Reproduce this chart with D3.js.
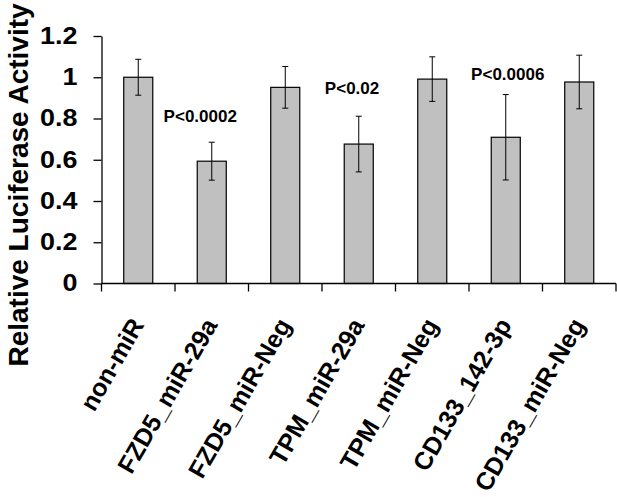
<!DOCTYPE html>
<html>
<head>
<meta charset="utf-8">
<script src="https://cdn.jsdelivr.net/npm/d3@7"></script>
<style>
  body { margin: 0; background: #fff; }
  text { font-family: Arial, "Liberation Sans", sans-serif; font-weight: bold; fill: #000; }
</style>
</head>
<body>
<div id="chart"></div>
<script>
// dados
const categorias = ["non-miR", "FZD5_miR-29a", "FZD5_miR-Neg", "TPM_miR-29a", "TPM_miR-Neg", "CD133_142-3p", "CD133_miR-Neg"];
const valores = [1.0, 0.593, 0.951, 0.676, 0.991, 0.709, 0.977];
const erros = [0.087, 0.092, 0.101, 0.135, 0.108, 0.207, 0.13];
const yTicks = [0, 0.2, 0.4, 0.6, 0.8, 1, 1.2];

// anotações de p-valor (categoria de referência, altura no eixo y, deslocamento)
const pTextos = ["P<0.0002", "P<0.02", "P<0.0006"];
const pCategorias = ["FZD5_miR-29a", "TPM_miR-29a", "CD133_142-3p"];
const pAlturas = [0.7845, 0.919, 0.987];
const pDesloc = [-11.5, -6.7, 2];

const W = 617, H = 497;
const margin = { top: 36, right: 1, bottom: 213.5, left: 101.5 };
const width = W - margin.left - margin.right;
const height = H - margin.top - margin.bottom;

const svg = d3.select("#chart")
    .append("svg")
    .attr("width", W)
    .attr("height", H);

svg.append("rect").attr("width", W).attr("height", H).attr("fill", "#fff");

const g = svg.append("g")
    .attr("transform", `translate(${margin.left},${margin.top})`);

// Escalas
const x = d3.scaleBand().domain(categorias).range([0, width]).padding(0);
const y = d3.scaleLinear().domain([0, 1.2]).range([height, 0]);
const barW = x.bandwidth() * 0.395;

// Barras
g.selectAll(".bar")
    .data(categorias)
    .enter().append("rect")
    .attr("class", "bar")
    .attr("x", (d) => x(d) + x.bandwidth() / 2 - barW / 2)
    .attr("y", (d, i) => y(valores[i]))
    .attr("width", barW)
    .attr("height", (d, i) => y(0) - y(valores[i]))
    .attr("fill", "#c0c0c0")
    .attr("stroke", "#000")
    .attr("stroke-width", 1.2);

// Barras de erro
const eb = g.selectAll(".err")
    .data(categorias)
    .enter().append("g")
    .attr("class", "err")
    .attr("stroke", "#000")
    .attr("stroke-width", 1);
const cx = (d) => x(d) + x.bandwidth() / 2;
eb.append("line")
    .attr("x1", cx).attr("x2", cx)
    .attr("y1", (d, i) => y(valores[i] + erros[i]))
    .attr("y2", (d, i) => y(valores[i] - erros[i]));
eb.append("line")
    .attr("x1", (d) => cx(d) - 3).attr("x2", (d) => cx(d) + 3)
    .attr("y1", (d, i) => y(valores[i] + erros[i]))
    .attr("y2", (d, i) => y(valores[i] + erros[i]));
eb.append("line")
    .attr("x1", (d) => cx(d) - 3).attr("x2", (d) => cx(d) + 3)
    .attr("y1", (d, i) => y(valores[i] - erros[i]))
    .attr("y2", (d, i) => y(valores[i] - erros[i]));

// Eixo y
const yAxis = g.append("g")
    .call(d3.axisLeft(y).tickValues(yTicks).tickSize(8).tickSizeOuter(0).tickPadding(16).tickFormat(d3.format("")));
yAxis.select(".domain").attr("stroke-width", 1.3);
yAxis.selectAll(".tick line").attr("stroke-width", 1.3);
// texto levemente esticado na horizontal, como na figura original
const esticar = 1.17;
yAxis.selectAll("text")
    .attr("x", -24 / esticar)
    .attr("transform", `scale(${esticar},1)`)
    .style("font-size", "23px")
    .style("font-family", "Arial, 'Liberation Sans', sans-serif")
    .style("font-weight", "bold")
    .attr("fill", "#000");

// Eixo x (ticks nas divisões entre categorias)
const xAxisG = g.append("g").attr("transform", `translate(0,${height})`);
xAxisG.append("line")
    .attr("x1", 0).attr("x2", width)
    .attr("stroke", "#000").attr("stroke-width", 1.3);
xAxisG.selectAll(".xtick")
    .data(categorias.concat([null]))
    .enter().append("line")
    .attr("class", "xtick")
    .attr("x1", (d, i) => i * x.step()).attr("x2", (d, i) => i * x.step())
    .attr("y1", 0).attr("y2", 8)
    .attr("stroke", "#000").attr("stroke-width", 1.3);

// Rótulos do eixo x
xAxisG.selectAll(".xlabel")
    .data(categorias)
    .enter().append("text")
    .attr("class", "xlabel")
    .attr("transform", (d) => `translate(${cx(d) - 1},${37}) rotate(-60)`)
    .attr("dy", "0.35em")
    .style("text-anchor", "end")
    .style("font-size", "25px")
    .text((d) => d);

// Título do eixo y
svg.append("text")
    .attr("transform", `translate(28,185) rotate(-90)`)
    .style("text-anchor", "middle")
    .style("font-size", "28px")
    .text("Relative Luciferase Activity");

// p-valores
g.selectAll(".pval")
    .data(pTextos)
    .enter().append("text")
    .attr("class", "pval")
    .attr("x", (d, i) => cx(pCategorias[i]) + pDesloc[i])
    .attr("y", (d, i) => y(pAlturas[i]))
    .style("text-anchor", "middle")
    .style("font-size", "17px")
    .text((d) => d);
</script>
</body>
</html>
